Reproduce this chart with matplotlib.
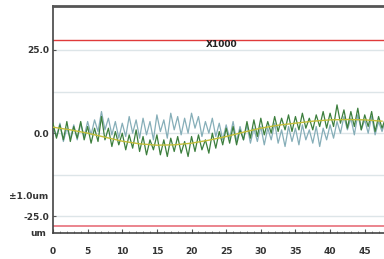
import numpy as np
import matplotlib.pyplot as plt
from matplotlib.ticker import MultipleLocator

# roughness traces, sampled every 0.5 along the x axis
green = [3.0, -1.5, 2.5, -2.0, 3.5, -2.5, 2.0, -1.5, 3.5, -2.0,
         2.0, -3.0, 1.5, -2.5, 5.0, -2.0, 1.5, -4.0, 0.5, -3.5,
         0.0, -5.0, -0.5, -4.5, 1.0, -5.5, -1.0, -6.5, -2.0, -5.0,
         -0.5, -6.5, -2.0, -7.0, -1.5, -5.5, -1.0, -6.0, -2.5, -7.0,
         -1.0, -5.5, -0.5, -5.0, -2.0, -6.0, 0.0, -4.5, 0.5, -3.5,
         1.5, -3.0, 2.0, -3.5, 1.0, -2.0, 3.5, -1.5, 4.0, -1.0,
         4.5, -0.5, 3.5, 0.0, 5.0, 0.5, 4.5, 1.0, 5.5, 0.5,
         5.0, 1.0, 6.0, 1.5, 4.5, 1.0, 5.5, 2.0, 6.5, 1.5,
         6.0, 2.0, 8.5, 3.0, 7.0, 1.5, 6.5, 2.0, 7.5, 1.0,
         5.5, 2.0, 6.5, 0.5, 5.0, 1.5, 4.5]
blue = [2.0, -1.0, 3.0, -2.5, 1.5, -1.5, 2.5, -2.0, 3.0, -1.0,
        3.5, -0.5, 4.0, 0.5, 6.5, 1.0, 4.5, -0.5, 3.5, -1.5,
        3.0, -1.0, 5.0, 0.0, 4.0, -1.5, 4.5, -0.5, 3.5, -2.0,
        5.5, 0.5, 4.0, -1.5, 6.0, 1.0, 5.0, -0.5, 4.5, 0.0,
        6.0, 1.5, 5.0, -1.0, 3.5, 0.0, 4.5, -1.0, 3.0, -2.0,
        2.5, -1.5, 3.5, -2.5, 2.0, -2.0, 2.5, -3.0, 1.5, -2.5,
        2.0, -3.5, 1.5, -2.0, 3.0, -3.0, 1.0, -4.0, 2.0, -2.5,
        1.5, -3.5, 2.5, -2.0, 1.0, -3.0, 2.0, -4.0, 1.5, -2.0,
        2.5, -1.5, 3.5, 0.0, 5.0, 1.0, 4.5, -0.5, 5.5, 1.0,
        4.0, 0.0, 5.0, -0.5, 3.5, 0.5, 4.0]
# mean line, sampled every 2.5
mean_line = [1.8, 1.0, 0.0, -1.2, -2.4, -3.2, -3.6, -3.5, -3.0, -2.1,
             -1.0, 0.3, 1.5, 2.4, 3.0, 3.6, 4.0, 4.1, 4.0, 3.6]
limit = 28.0

grid_levels = [25, 12.5, 0, -12.5, -25]
ytick_vals = [25, 0, -25]
ytick_labels = ["25.0", "0.0", "-25.0"]
xtick_vals = [0, 5, 10, 15, 20, 25, 30, 35, 40, 45]

x_trace = 0.5 * np.arange(len(green))
x_mean = 2.5 * np.arange(len(mean_line))

fig = plt.figure(figsize=(3.84, 2.59), dpi=100)
ax = fig.add_axes([0.138, 0.100, 0.902, 0.877])

for g in grid_levels:
    ax.axhline(g, color="#dde5e8", linewidth=1.0, zorder=0)
ax.axhline(limit, color="#e03a3a", linewidth=1.0, zorder=1)
ax.axhline(-limit, color="#e8707a", linewidth=1.2, zorder=1)

ax.plot(x_trace, blue, color="#86aeb8", linewidth=0.9, zorder=2)
ax.plot(x_trace, green, color="#3c7f3d", linewidth=0.9, zorder=3)
ax.plot(x_mean, mean_line, color="#c4bd3a", linewidth=1.0, zorder=4)

ax.text(24.4, 26.7, "X1000", fontsize=6.5, ha="center", va="center",
        color="#222222", fontweight="bold")

ax.set_xlim(0, 50)
ax.set_ylim(-30, 38.2)
ax.set_xticks(xtick_vals)
ax.set_xticklabels([str(v) for v in xtick_vals], fontsize=6.5,
                   fontweight="bold", color="#333333")
ax.xaxis.set_minor_locator(MultipleLocator(1))
ax.tick_params(axis="x", which="major", direction="in", length=3,
               color="#555555", pad=10)
ax.tick_params(axis="x", which="minor", direction="in", length=1.5,
               color="#777777")
ax.set_yticks(ytick_vals)
ax.set_yticklabels(ytick_labels, fontsize=6.5, fontweight="bold",
                   color="#333333")
ax.tick_params(axis="y", direction="in", length=2, color="#555555", pad=3)

trans = ax.get_yaxis_transform()
ax.text(-0.015, -19, "\u00b11.0um", transform=trans, fontsize=6.5,
        ha="right", va="center", color="#333333", fontweight="bold")
ax.text(-0.02, -30, "um", transform=trans, fontsize=6.5,
        ha="right", va="center", color="#333333", fontweight="bold")

for side in ["left", "bottom"]:
    ax.spines[side].set_color("#444444")
    ax.spines[side].set_linewidth(1.2)
ax.spines["top"].set_color("#555555")
ax.spines["top"].set_linewidth(2.0)
ax.spines["right"].set_visible(False)

fig.savefig("out.png", dpi=100)
